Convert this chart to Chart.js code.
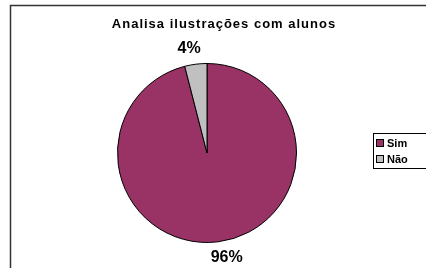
<!DOCTYPE html>
<html>
<head>
<meta charset="utf-8">
<script src="https://cdn.jsdelivr.net/npm/chart.js@4/dist/chart.umd.min.js"></script>
<style>
  html, body { margin:0; padding:0; background:#fff; }
  #wrap { width:426px; height:268px; position:relative; }
</style>
</head>
<body>
<div id="wrap"><canvas id="pie" width="426" height="268"></canvas></div>
<script>
// data
const titleText = 'Analisa ilustrações com alunos'
const categories = ['Sim', 'Não']
const values = [96, 4]
const colors = ['#993366', '#C0C0C0']

const FAMILY = '"Liberation Sans", Arial, sans-serif'

// frame, title, outside labels and legend box
const decor = {
  id: 'decor',
  beforeDraw(chart){
    const ctx = chart.ctx
    ctx.save()
    ctx.fillStyle = '#fff'
    ctx.fillRect(0, 0, chart.width, chart.height)
    ctx.strokeStyle = '#333'
    ctx.lineWidth = 1.5
    ctx.strokeRect(10.5, 5.5, 600, 600)
    ctx.restore()
  },
  afterDraw(chart){
    const ctx = chart.ctx
    const meta = chart.getDatasetMeta(0)
    const total = values.reduce((a,b)=>a+b, 0)
    ctx.save()
    ctx.fillStyle = '#000'
    ctx.textAlign = 'center'
    ctx.textBaseline = 'middle'
    ctx.font = 'bold 13px ' + FAMILY
    ctx.letterSpacing = '1px'
    ctx.fillText(titleText, 224, 24)
    ctx.letterSpacing = '0px'

    // percentage labels outside each slice
    ctx.font = 'bold 16px ' + FAMILY
    meta.data.forEach((arc, i)=>{
      const p = arc.getProps(['x','y','startAngle','endAngle','outerRadius'], true)
      const mid = (p.startAngle + p.endAngle) / 2
      const pct = Math.round(values[i] / total * 100) + '%'
      const w = ctx.measureText(pct).width
      const r = p.outerRadius + 16
      const x = p.x + Math.cos(mid) * (r + w * 1.6)
      const y = p.y + Math.sin(mid) * r
      ctx.fillText(pct, x, y)
    })

    // legend
    const lx = 373, ly = 133
    ctx.strokeStyle = '#000'
    ctx.lineWidth = 1
    ctx.fillStyle = '#fff'
    ctx.fillRect(lx + 0.5, ly + 0.5, 80, 35)
    ctx.strokeRect(lx + 0.5, ly + 0.5, 80, 35)
    ctx.font = 'bold 11px ' + FAMILY
    ctx.textAlign = 'left'
    categories.forEach((c, i)=>{
      const y = ly + 10 + i * 16
      ctx.fillStyle = colors[i]
      ctx.fillRect(lx + 3.5, y - 3.5, 7, 7)
      ctx.strokeRect(lx + 3.5, y - 3.5, 7, 7)
      ctx.fillStyle = '#000'
      ctx.fillText(c, lx + 14, y + 0.5)
    })
    ctx.restore()
  }
}

new Chart(document.getElementById('pie'), {
  type: 'pie',
  data: {
    labels: categories,
    datasets: [{
      data: values,
      backgroundColor: colors,
      borderColor: '#000',
      borderWidth: 1
    }]
  },
  options: {
    responsive: false,
    animation: false,
    layout: { padding: { left: 117, right: 129, top: 63, bottom: 25 } },
    plugins: {
      legend: { display: false },
      title: { display: false },
      tooltip: { enabled: false }
    }
  },
  plugins: [decor]
})
</script>
</body>
</html>
